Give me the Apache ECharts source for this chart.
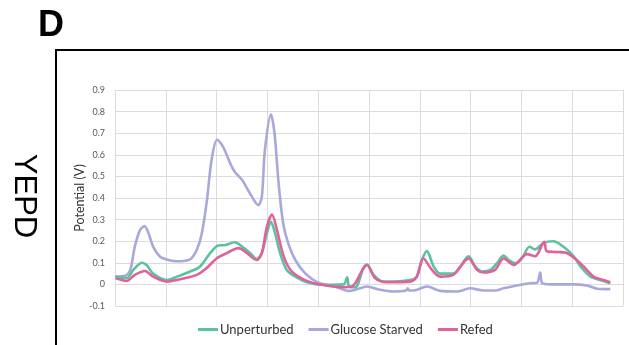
<!DOCTYPE html>
<html><head><meta charset="utf-8">
<script src="https://cdn.jsdelivr.net/npm/echarts@6/dist/echarts.min.js"></script>
<style>html,body{margin:0;padding:0;background:#fff}#c{width:629px;height:345px}</style>
</head><body><div id="c"></div>
<script>
var seriesNames = ['Unperturbed', 'Glucose Starved', 'Refed'];
var yTicks = [-0.1, 0.9, 0.1]; // min, max, step

var xStarved = [0.1,2.0,3.0,3.9,4.9,5.8,6.6,7.5,8.9,10.5,12.2,14.8,16.1,17.1,18.1,19.0,20.1,21.3,22.7,23.6,25.0,26.6,28.2,28.9,29.5,30.7,31.4,32.2,33.1,34.1,35.5,37.4,40.0,43.3,46.0,48.3,49.6,50.2,52.2,54.8,57.3,57.6,57.9,58.8,61.4,64.0,67.3,69.9,72.5,74.8,76.5,79.1,81.7,83.1,83.7,84.1,85.7,90.3,92.9,94.9,97.5];
var yStarved = [0.036,0.04,0.067,0.175,0.25,0.27,0.237,0.175,0.128,0.113,0.107,0.116,0.16,0.237,0.39,0.575,0.67,0.636,0.559,0.52,0.484,0.42,0.367,0.405,0.62,0.786,0.70,0.47,0.283,0.19,0.113,0.052,0.008,-0.01,-0.03,-0.018,-0.01,-0.012,-0.025,-0.033,-0.028,-0.018,-0.028,-0.028,-0.01,-0.03,-0.033,-0.018,-0.028,-0.028,-0.018,-0.005,0.005,0.008,0.055,0.005,0.0,0.0,-0.005,-0.02,-0.022];

var xUnpert = [0.1,2.3,3.6,5.3,6.2,7.5,10.2,12.2,14.8,16.7,18.7,20.3,21.7,23.6,25.0,26.6,27.9,28.9,29.9,30.7,31.5,32.5,33.8,35.5,38.1,41.4,45.0,45.7,46.1,47.3,48.9,49.6,50.9,52.8,54.8,58.1,59.4,60.4,61.4,62.7,64.0,66.6,68.0,69.6,70.9,72.2,73.9,75.2,76.5,77.5,78.8,80.1,81.6,82.7,84.4,86.3,88.3,90.3,91.6,93.6,95.5,97.5];
var yUnpert = [0.036,0.029,0.067,0.10,0.09,0.05,0.02,0.036,0.06,0.082,0.144,0.18,0.182,0.195,0.175,0.145,0.117,0.145,0.237,0.29,0.237,0.145,0.067,0.036,0.008,-0.002,0,0.033,-0.01,-0.013,0.075,0.092,0.044,0.013,0.013,0.02,0.036,0.113,0.154,0.084,0.05,0.05,0.084,0.13,0.084,0.06,0.067,0.098,0.133,0.113,0.098,0.12,0.174,0.162,0.193,0.2,0.174,0.13,0.084,0.036,0.02,0.005];

var xRefed = [0.1,2.3,3.9,5.9,7.5,10.2,12.8,16.1,18.0,20.0,22.0,24.3,25.6,27.9,28.9,29.9,30.9,31.9,33.2,34.8,37.4,40.7,44.6,46.6,48.9,49.6,51.2,53.5,58.1,59.4,60.7,62.4,64.0,66.6,69.6,71.3,72.6,74.8,76.5,78.5,81.1,82.7,84.5,85.0,87.0,88.9,90.9,92.2,94.2,96.2,97.5];
var yRefed = [0.029,0.016,0.044,0.062,0.036,0.013,0.024,0.044,0.075,0.12,0.145,0.168,0.152,0.113,0.145,0.267,0.323,0.25,0.13,0.06,0.02,-0.002,-0.013,-0.01,0.075,0.09,0.029,0.01,0.013,0.036,0.12,0.067,0.036,0.044,0.12,0.067,0.055,0.067,0.12,0.09,0.14,0.13,0.197,0.153,0.15,0.145,0.113,0.084,0.036,0.02,0.01];

var colors = ['#5bc29c', '#a9a8dc', '#e0619d'];

function pairs(xs, ys) { return xs.map(function (x, i) { return [x, ys[i]]; }); }

var chart = echarts.init(document.getElementById('c'), null, {renderer: 'canvas'});
var font = 'Lato, "Open Sans", sans-serif';
function mk(idx, xs, ys) {
  return {
    name: seriesNames[idx], type: 'line', data: pairs(xs, ys),
    showSymbol: false, symbol: 'none', smooth: 0.3,
    lineStyle: {color: colors[idx], width: 2.6},
    itemStyle: {color: colors[idx]}
  };
}
chart.setOption({
  animation: false,
  backgroundColor: '#fff',
  grid: {left: 115, right: 6, top: 90, bottom: 39},
  xAxis: {
    type: 'value', min: 0, max: 100, interval: 10,
    axisLine: {show: false}, axisTick: {show: false}, axisLabel: {show: false},
    splitLine: {show: true, lineStyle: {color: '#dcdcdc', width: 1}}
  },
  yAxis: {
    type: 'value', min: yTicks[0], max: yTicks[1], interval: yTicks[2],
    name: 'Potential (V)', nameLocation: 'middle', nameGap: 29, nameRotate: 90,
    nameMoveOverlap: false,
    nameTextStyle: {fontSize: 12.5, color: '#333', fontFamily: font},
    axisLine: {show: false}, axisTick: {show: false},
    axisLabel: {fontSize: 9, color: '#595959', margin: 10, fontFamily: font},
    splitLine: {show: true, lineStyle: {color: '#dcdcdc', width: 1}}
  },
  legend: {
    data: seriesNames, left: 193, top: 318, itemGap: 15,
    icon: 'rect', itemWidth: 20, itemHeight: 3,
    textStyle: {fontSize: 13, color: '#333', fontFamily: font, padding: [0, 0, 0, -3]}
  },
  graphic: [
    {type: 'text', left: 38, top: 8, style: {text: 'D', font: 'bold 36px "Liberation Sans", Arial, sans-serif', fill: '#000'}},
    {type: 'text', x: 23.5, y: 196, rotation: -Math.PI / 2,
      style: {text: 'YEPD', font: '31px "Liberation Sans", Arial, sans-serif', fill: '#000', align: 'center', verticalAlign: 'middle'}},
    {type: 'line', shape: {x1: 56, y1: 49, x2: 56, y2: 345}, style: {stroke: '#000', lineWidth: 2}},
    {type: 'line', shape: {x1: 55, y1: 50, x2: 629, y2: 50}, style: {stroke: '#000', lineWidth: 2}}
  ],
  series: [mk(1, xStarved, yStarved), mk(0, xUnpert, yUnpert), mk(2, xRefed, yRefed)]
});
</script></body></html>
